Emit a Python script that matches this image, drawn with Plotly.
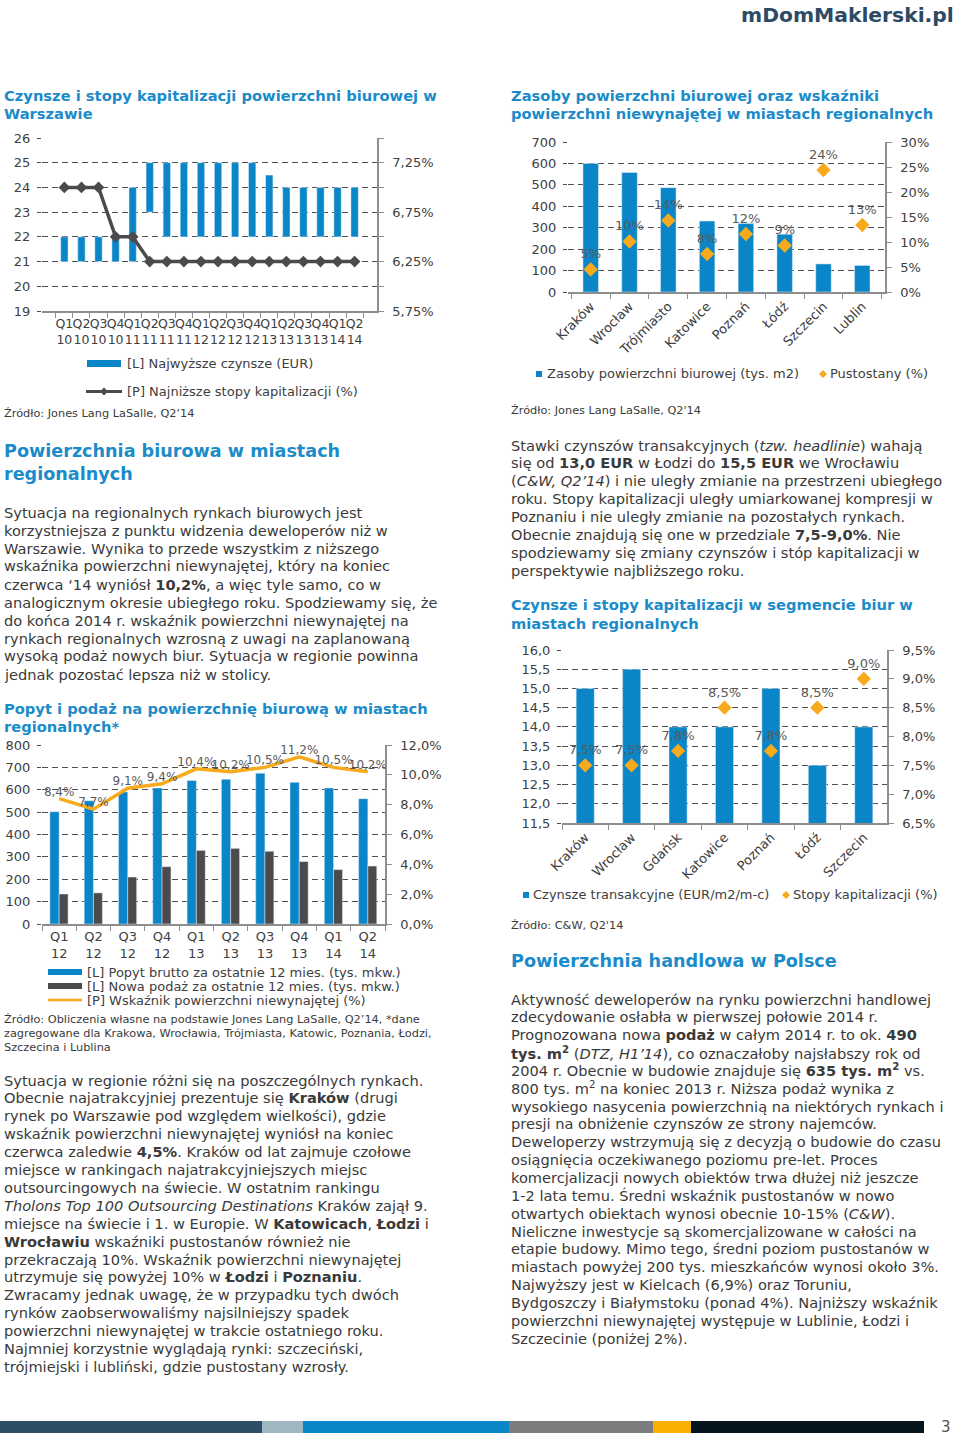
import plotly.graph_objects as go

W, H = 960, 1440
def px(x): return x / W
def py(y): return 1 - y / H

FONT = "DejaVu Sans"
BLUE = "#0A86C8"
ORANGE = "#F6AA1C"
DARK = "#4B4B4D"
TXT = "#3A3A3A"
TICK = "#404040"
HEAD = "#1B8BC9"
GRID = "#4F4F4F"
AXL = "#8E8E8E"
LBL = "#5A5A5A"

# ---------------- Chart 1 data: Warszawa ----------------
c1_quarters = ["Q1<br>10", "Q2<br>10", "Q3<br>10", "Q4<br>10", "Q1<br>11", "Q2<br>11",
               "Q3<br>11", "Q4<br>11", "Q1<br>12", "Q2<br>12", "Q3<br>12", "Q4<br>12",
               "Q1<br>13", "Q2<br>13", "Q3<br>13", "Q4<br>13", "Q1<br>14", "Q2<br>14"]
c1_rent_low = [21, 21, 21, 21, 21, 23, 22, 22, 22, 22, 22, 22, 22, 22, 22, 22, 22, 22]
c1_rent_high = [22, 22, 22, 22, 24, 25, 25, 25, 25, 25, 25, 25, 24.5, 24, 24, 24, 24, 24]
c1_cap = [7.0, 7.0, 7.0, 6.5, 6.5, 6.25, 6.25, 6.25, 6.25, 6.25, 6.25, 6.25,
          6.25, 6.25, 6.25, 6.25, 6.25, 6.25]

# ---------------- Chart 2 data: Zasoby ----------------
c2_cities = ["Kraków", "Wrocław", "Trójmiasto", "Katowice", "Poznań", "Łódź", "Szczecin", "Lublin"]
c2_stock = [600, 558, 487, 331, 320, 270, 131, 124]
c2_vacancy = [4.5, 10.1, 14.3, 7.6, 11.6, 9.3, 24.4, 13.4]

# ---------------- Chart 3 data: Popyt i podaż ----------------
c3_quarters = ["Q1<br>12", "Q2<br>12", "Q3<br>12", "Q4<br>12", "Q1<br>13",
               "Q2<br>13", "Q3<br>13", "Q4<br>13", "Q1<br>14", "Q2<br>14"]
c3_demand = [502, 551, 590, 608, 641, 647, 674, 633, 608, 560]
c3_supply = [134, 139, 210, 256, 329, 338, 325, 279, 243, 259]
c3_vacancy = [8.4, 7.7, 9.1, 9.4, 10.4, 10.2, 10.5, 11.2, 10.5, 10.2]

# ---------------- Chart 4 data: Czynsze regionalne ----------------
c4_cities = ["Kraków", "Wrocław", "Gdańsk", "Katowice", "Poznań", "Łódź", "Szczecin"]
c4_rent = [15.0, 15.5, 14.0, 14.0, 15.0, 13.0, 14.0]
c4_yield = [7.5, 7.5, 7.75, 8.5, 7.75, 8.5, 9.0]

fig = go.Figure()

# Chart 1
fig.add_trace(go.Bar(x=c1_quarters, y=[h - l for h, l in zip(c1_rent_high, c1_rent_low)],
                     base=c1_rent_low, width=0.43, marker_color=BLUE,
                     name="[L] Najwyższe czynsze (EUR)", xaxis="x", yaxis="y"))
fig.add_trace(go.Scatter(x=c1_quarters, y=c1_cap, mode="lines+markers",
                         line=dict(color=DARK, width=3.5),
                         marker=dict(symbol="diamond", size=9, color=DARK),
                         name="[P] Najniższe stopy kapitalizacji (%)", xaxis="x", yaxis="y2"))

# Chart 2
fig.add_trace(go.Bar(x=c2_cities, y=c2_stock, width=0.4, marker_color=BLUE,
                     name="Zasoby powierzchni biurowej (tys. m2)", xaxis="x2", yaxis="y3"))
fig.add_trace(go.Scatter(x=c2_cities, y=c2_vacancy, mode="markers+text",
                         marker=dict(symbol="diamond", size=11, color=ORANGE),
                         texttemplate="%{y:.0f}%", textposition="top center",
                         textfont=dict(family=FONT, size=13, color=LBL), cliponaxis=False,
                         name="Pustostany (%)", xaxis="x2", yaxis="y4"))

# Chart 3
fig.add_trace(go.Bar(x=c3_quarters, y=c3_demand, width=0.27, offset=-0.27, marker_color=BLUE,
                     name="[L] Popyt brutto za ostatnie 12 mies. (tys. mkw.)",
                     xaxis="x3", yaxis="y5"))
fig.add_trace(go.Bar(x=c3_quarters, y=c3_supply, width=0.26, offset=0.0, marker_color=DARK,
                     name="[L] Nowa podaż za ostatnie 12 mies. (tys. mkw.)",
                     xaxis="x3", yaxis="y5"))
fig.add_trace(go.Scatter(x=c3_quarters, y=c3_vacancy, mode="lines+text",
                         line=dict(color=ORANGE, width=3.5),
                         texttemplate="%{y:.1f}%", textposition="top center",
                         textfont=dict(family=FONT, size=12, color=LBL), cliponaxis=False,
                         name="[P] Wskaźnik powierzchni niewynajętej (%)",
                         xaxis="x3", yaxis="y6"))

# Chart 4
fig.add_trace(go.Bar(x=c4_cities, y=c4_rent, width=0.39, marker_color=BLUE,
                     name="Czynsze transakcyjne (EUR/m2/m-c)", xaxis="x4", yaxis="y7"))
fig.add_trace(go.Scatter(x=c4_cities, y=c4_yield, mode="markers+text",
                         marker=dict(symbol="diamond", size=11, color=ORANGE),
                         texttemplate="%{y:.1f}%", textposition="top center",
                         textfont=dict(family=FONT, size=13, color=LBL), cliponaxis=False,
                         name="Stopy kapitalizacji (%)", xaxis="x4", yaxis="y8"))


def xax(dom, anchor, angle=0, size=13):
    return dict(domain=[px(dom[0]), px(dom[1])], anchor=anchor, type="category",
                tickmode="linear", tick0=0, dtick=1,
                tickson="boundaries", ticks="outside", ticklen=5, tickcolor=AXL,
                showline=True, linecolor=AXL, linewidth=1.5, showgrid=False,
                tickfont=dict(family=FONT, size=size, color=TICK), tickangle=angle,
                fixedrange=True)

def yleft(dom, anchor, rng, dtick, fmt=None, size=13):
    d = dict(domain=[py(dom[1]), py(dom[0])], anchor=anchor, range=rng, dtick=dtick,
             showgrid=True, gridcolor=GRID, gridwidth=1.2, griddash="6px,4px",
             zeroline=False, showline=False, ticks="outside", ticklen=4, tickcolor=GRID,
             tickfont=dict(family=FONT, size=size, color=TICK), ticklabelstandoff=4)
    if fmt:
        d["tickformat"] = fmt
    return d

def yright(overlay, anchor, rng, tick0, dtick, fmt, minor=None, size=13):
    d = dict(overlaying=overlay, anchor=anchor, side="right", range=rng, tick0=tick0,
             dtick=dtick, tickformat=fmt, ticksuffix="%", showgrid=False, zeroline=False,
             showline=True, linecolor=AXL, linewidth=1.5, ticks="outside", ticklen=5,
             tickcolor=AXL, tickfont=dict(family=FONT, size=size, color=TICK),
             ticklabelstandoff=6)
    if minor:
        d["minor"] = dict(dtick=minor, ticks="outside", ticklen=5, tickcolor=AXL, showgrid=False)
    return d

layout = dict(
    width=W, height=H, margin=dict(l=0, r=0, t=0, b=0, autoexpand=False),
    paper_bgcolor="white", plot_bgcolor="rgba(0,0,0,0)",
    separators=", ", barmode="overlay", showlegend=False,
    font=dict(family=FONT, color=TXT),
    xaxis=xax((42, 377), "y", size=12.5),
    yaxis=yleft((138, 311), "x", [19, 26], 1),
    yaxis2=yright("y", "x", [5.75, 7.5], 5.75, 0.5, ".2f", minor=0.25),
    xaxis2=xax((568, 885), "y3", -45),
    yaxis3=yleft((142, 292), "x2", [0, 700], 100),
    yaxis4=yright("y3", "x2", [0, 30], 0, 5, ".0f"),
    xaxis3=xax((42, 385), "y5"),
    yaxis5=yleft((745, 924), "x3", [0, 800], 100),
    yaxis6=yright("y5", "x3", [0, 12], 0, 2, ".1f"),
    xaxis4=xax((562, 887), "y7", -45),
    yaxis7=yleft((650, 823), "x4", [11.5, 16.0], 0.5, ".1f"),
    yaxis8=yright("y7", "x4", [6.5, 9.5], 6.5, 0.5, ".1f"),
)

ann = []
shapes = []

def add_text(t, x, y, size, color, xanchor="left"):
    ann.append(dict(text=t, x=px(x), y=py(y), xref="paper", yref="paper",
                    xanchor=xanchor, yanchor="middle", showarrow=False, borderpad=0,
                    font=dict(family=FONT, size=size, color=color)))

def add_lines(lines, x, y0, lh, size, color):
    for i, t in enumerate(lines):
        add_text(t, x, y0 + i * lh, size, color)

def rect(x0, x1, y0, y1, color):
    shapes.append(dict(type="rect", xref="paper", yref="paper", x0=px(x0), x1=px(x1),
                       y0=py(y1), y1=py(y0), line=dict(width=0), fillcolor=color))

def hline(x0, x1, y, color, width):
    shapes.append(dict(type="line", xref="paper", yref="paper", x0=px(x0), x1=px(x1),
                       y0=py(y), y1=py(y), line=dict(color=color, width=width)))

def diamond(xc, yc, r, color):
    path = "M {} {} L {} {} L {} {} L {} {} Z".format(
        px(xc - r), py(yc), px(xc), py(yc - r), px(xc + r), py(yc), px(xc), py(yc + r))
    shapes.append(dict(type="path", xref="paper", yref="paper", path=path,
                       line=dict(width=0), fillcolor=color))

def B(s): return "<b>" + s + "</b>"
def I(s): return "<i>" + s + "</i>"

# ---- legends (drawn as keys) ----
LEG = 13
rect(87, 121, 360, 367, BLUE)
add_text(fig.data[0].name, 126, 363.5, LEG, TICK)
hline(86, 122, 391.5, DARK, 3)
diamond(104, 391.5, 4, DARK)
add_text(fig.data[1].name, 126, 391.5, LEG, TICK)

rect(536, 542, 371, 377, BLUE)
add_text(fig.data[2].name, 546, 373.5, LEG, TICK)
diamond(823, 374, 4, ORANGE)
add_text(fig.data[3].name, 829, 373.5, LEG, TICK)

rect(48, 82, 969, 975, BLUE)
add_text(fig.data[4].name, 86, 972, LEG, TICK)
rect(48, 82, 983, 989, DARK)
add_text(fig.data[5].name, 86, 986, LEG, TICK)
hline(48, 82, 1000, ORANGE, 2.5)
add_text(fig.data[6].name, 86, 1000, LEG, TICK)

rect(523, 529, 892, 898, BLUE)
add_text(fig.data[7].name, 532, 894.5, LEG, TICK)
diamond(786, 895, 4, ORANGE)
add_text(fig.data[8].name, 792, 894.5, LEG, TICK)

# ---- headings ----
HS = 14.7
BH = 17.6
add_lines([B("Czynsze i stopy kapitalizacji powierzchni biurowej w"), B("Warszawie")],
          3, 96, 17.5, HS, HEAD)
add_lines([B("Zasoby powierzchni biurowej oraz wskaźniki"),
           B("powierzchni niewynajętej w miastach regionalnych")], 510, 96, 17.5, HS, HEAD)
add_lines([B("Powierzchnia biurowa w miastach"), B("regionalnych")], 3, 451, 23, BH, HEAD)
add_lines([B("Popyt i podaż na powierzchnię biurową w miastach"), B("regionalnych*")],
          3, 708, 18, HS, HEAD)
add_lines([B("Czynsze i stopy kapitalizacji w segmencie biur w"), B("miastach regionalnych")],
          510, 605, 18, HS, HEAD)
add_lines([B("Powierzchnia handlowa w Polsce")], 510, 961, 23, BH, HEAD)

# ---- sources ----
SS = 11.3
add_lines(["Źródło: Jones Lang LaSalle, Q2‘14"], 3, 414, 14, SS, TXT)
add_lines(["Źródło: Jones Lang LaSalle, Q2'14"], 510, 410, 14, SS, TXT)
add_lines(["Źródło: Obliczenia własne na podstawie Jones Lang LaSalle, Q2’14, *dane",
           "zagregowane dla Krakowa, Wrocławia, Trójmiasta, Katowic, Poznania, Łodzi,",
           "Szczecina i Lublina"], 3, 1019, 14, SS, TXT)
add_lines(["Źródło: C&W, Q2'14"], 510, 925, 14, SS, TXT)

BODY = 14.6
para1 = [
    "Sytuacja na regionalnych rynkach biurowych jest",
    "korzystniejsza z punktu widzenia deweloperów niż w",
    "Warszawie. Wynika to przede wszystkim z niższego",
    "wskaźnika powierzchni niewynajętej, który na koniec",
    "czerwca ‘14 wyniósł " + B("10,2%") + ", a więc tyle samo, co w",
    "analogicznym okresie ubiegłego roku. Spodziewamy się, że",
    "do końca 2014 r. wskaźnik powierzchni niewynajętej na",
    "rynkach regionalnych wzrosną z uwagi na zaplanowaną",
    "wysoką podaż nowych biur. Sytuacja w regionie powinna",
    "jednak pozostać lepsza niż w stolicy.",
]
add_lines(para1, 3, 512, 18, BODY, TXT)

para2 = [
    "Sytuacja w regionie różni się na poszczególnych rynkach.",
    "Obecnie najatrakcyjniej prezentuje się " + B("Kraków") + " (drugi",
    "rynek po Warszawie pod względem wielkości), gdzie",
    "wskaźnik powierzchni niewynajętej wyniósł na koniec",
    "czerwca zaledwie " + B("4,5%") + ". Kraków od lat zajmuje czołowe",
    "miejsce w rankingach najatrakcyjniejszych miejsc",
    "outsourcingowych na świecie. W ostatnim rankingu",
    I("Tholons Top 100 Outsourcing Destinations") + " Kraków zajął 9.",
    "miejsce na świecie i 1. w Europie. W " + B("Katowicach") + ", " + B("Łodzi") + " i",
    B("Wrocławiu") + " wskaźniki pustostanów również nie",
    "przekraczają 10%. Wskaźnik powierzchni niewynajętej",
    "utrzymuje się powyżej 10% w " + B("Łodzi") + " i " + B("Poznaniu") + ".",
    "Zwracamy jednak uwagę, że w przypadku tych dwóch",
    "rynków zaobserwowaliśmy najsilniejszy spadek",
    "powierzchni niewynajętej w trakcie ostatniego roku.",
    "Najmniej korzystnie wyglądają rynki: szczeciński,",
    "trójmiejski i lubliński, gdzie pustostany wzrosły.",
]
add_lines(para2, 3, 1080, 17.9, BODY, TXT)

para3 = [
    "Stawki czynszów transakcyjnych (" + I("tzw. headlinie") + ") wahają",
    "się od " + B("13,0 EUR") + " w Łodzi do " + B("15,5 EUR") + " we Wrocławiu",
    "(" + I("C&W, Q2’14") + ") i nie uległy zmianie na przestrzeni ubiegłego",
    "roku. Stopy kapitalizacji uległy umiarkowanej kompresji w",
    "Poznaniu i nie uległy zmianie na pozostałych rynkach.",
    "Obecnie znajdują się one w przedziale " + B("7,5-9,0%") + ". Nie",
    "spodziewamy się zmiany czynszów i stóp kapitalizacji w",
    "perspektywie najbliższego roku.",
]
add_lines(para3, 510, 445, 17.9, BODY, TXT)

para4 = [
    "Aktywność deweloperów na rynku powierzchni handlowej",
    "zdecydowanie osłabła w pierwszej połowie 2014 r.",
    "Prognozowana nowa " + B("podaż") + " w całym 2014 r. to ok. " + B("490"),
    B("tys. m<sup>2</sup>") + " (" + I("DTZ, H1’14") + "), co oznaczałoby najsłabszy rok od",
    "2004 r. Obecnie w budowie znajduje się " + B("635 tys. m<sup>2</sup>") + " vs.",
    "800 tys. m<sup>2</sup> na koniec 2013 r. Niższa podaż wynika z",
    "wysokiego nasycenia powierzchnią na niektórych rynkach i",
    "presji na obniżenie czynszów ze strony najemców.",
    "Deweloperzy wstrzymują się z decyzją o budowie do czasu",
    "osiągnięcia oczekiwanego poziomu pre-let. Proces",
    "komercjalizacji nowych obiektów trwa dłużej niż jeszcze",
    "1-2 lata temu. Średni wskaźnik pustostanów w nowo",
    "otwartych obiektach wynosi obecnie 10-15% (" + I("C&W") + ").",
    "Nieliczne inwestycje są skomercjalizowane w całości na",
    "etapie budowy. Mimo tego, średni poziom pustostanów w",
    "miastach powyżej 200 tys. mieszkańców wynosi około 3%.",
    "Najwyższy jest w Kielcach (6,9%) oraz Toruniu,",
    "Bydgoszczy i Białymstoku (ponad 4%). Najniższy wskaźnik",
    "powierzchni niewynajętej występuje w Lublinie, Łodzi i",
    "Szczecinie (poniżej 2%).",
]
add_lines(para4, 510, 999, 17.85, BODY, TXT)

# ---- logo and page number ----
add_text(B("mDomMaklerski.pl"), 955, 15, 20.3, "#2C4A63", xanchor="right")
add_text("3", 946, 1427, 15, "#555555", xanchor="center")

# ---- footer colour band ----
band = [(0, 262, "#2D4E67"), (262, 303, "#A0B6C1"), (303, 509, "#0A86C8"),
        (509, 653, "#7A7C7E"), (653, 691, "#F9B000"), (691, 924, "#06141E")]
for a, b, c in band:
    rect(a, b, 1421, 1433, c)

layout["annotations"] = ann
layout["shapes"] = shapes
fig.update_layout(**layout)
fig.write_html("out.html", config={"displayModeBar": False},
               post_script="document.body.style.margin='0px';")
